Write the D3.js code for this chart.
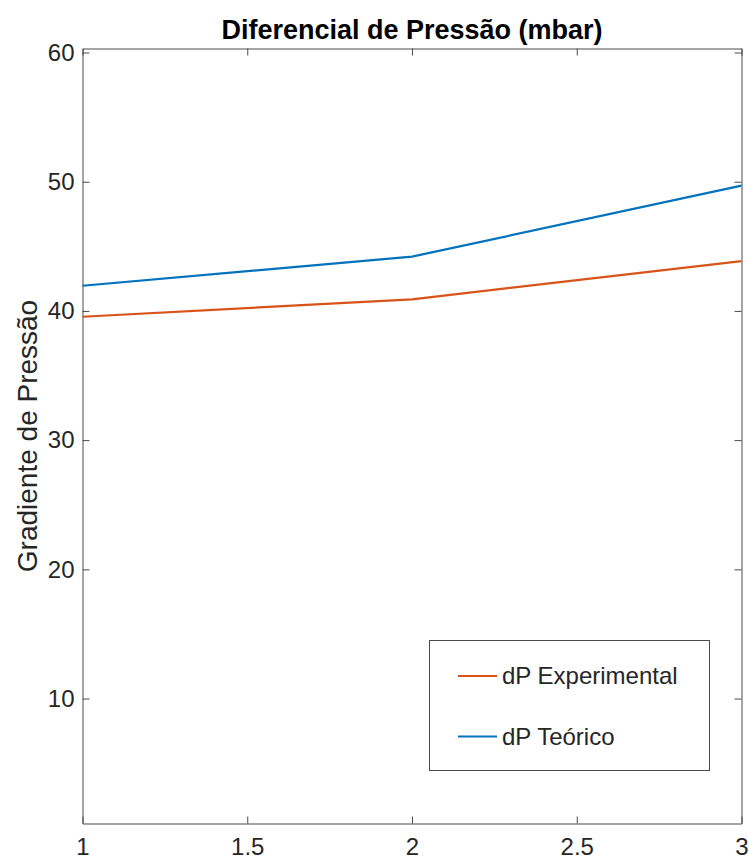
<!DOCTYPE html>
<html>
<head>
<meta charset="utf-8">
<script src="https://cdn.jsdelivr.net/npm/d3@7"></script>
<style>
  html, body { margin: 0; padding: 0; background: #fff; }
  svg { display: block; }
  text { font-family: "Liberation Sans", Arial, Helvetica, sans-serif; }
</style>
</head>
<body>
<svg id="chart" width="749" height="859"></svg>
<script>
// Pressure differential per run
const xValues = [1, 2, 3];
const dpExperimental = [39.55, 40.9, 43.85];
const dpTeorico = [41.95, 44.2, 49.7];
const seriesNames = ["dP Experimental", "dP Teórico"];
const seriesColors = ["#D95319", "#0072BD"];
const xTicks = [1, 1.5, 2, 2.5, 3];
const yTicks = [10, 20, 30, 40, 50, 60];
const xDomain = [1, 3];
const yDomain = [0.33, 60.31];

const W = 749, H = 859;
const m = { left: 82.5, right: 741.5, top: 48.5, bottom: 823.5 };

const svg = d3.select("#chart");
const x = d3.scaleLinear().domain(xDomain).range([m.left, m.right]);
const y = d3.scaleLinear().domain(yDomain).range([m.bottom, m.top]);

const axisColor = "#4a4a4a";
const textColor = "#262626";
const tickLen = 7;

// Axes: ticks drawn inward on all four sides
const gBottom = svg.append("g").attr("transform", `translate(0,${m.bottom})`)
  .call(d3.axisBottom(x).tickValues(xTicks).tickSizeInner(-tickLen).tickSizeOuter(0)
    .tickPadding(14).tickFormat(d3.format("")));
const gTop = svg.append("g").attr("transform", `translate(0,${m.top})`)
  .call(d3.axisTop(x).tickValues(xTicks).tickSizeInner(-tickLen).tickSizeOuter(0)
    .tickFormat(""));
const gLeft = svg.append("g").attr("transform", `translate(${m.left},0)`)
  .call(d3.axisLeft(y).tickValues(yTicks).tickSizeInner(-tickLen).tickSizeOuter(0)
    .tickPadding(8).tickFormat(d3.format("")));
const gRight = svg.append("g").attr("transform", `translate(${m.right},0)`)
  .call(d3.axisRight(y).tickValues(yTicks).tickSizeInner(-tickLen).tickSizeOuter(0)
    .tickFormat(""));

[gBottom, gTop, gLeft, gRight].forEach(g => {
  g.select(".domain").attr("stroke", axisColor).attr("stroke-width", 1);
  g.selectAll(".tick line").attr("stroke", axisColor).attr("stroke-width", 1);
  g.selectAll(".tick text").attr("fill", textColor).attr("font-size", 24);
});
gBottom.selectAll(".tick text").attr("dy", "0.71em");

// Series lines
const line = d3.line().x((d, i) => x(xValues[i])).y(d => y(d));
[dpExperimental, dpTeorico].forEach((vals, k) => {
  svg.append("path").datum(vals)
    .attr("fill", "none")
    .attr("stroke", seriesColors[k])
    .attr("stroke-width", 2.2)
    .attr("stroke-linejoin", "round")
    .attr("d", line);
});

// Title
svg.append("text")
  .attr("x", (m.left + m.right) / 2).attr("y", 39)
  .attr("text-anchor", "middle")
  .attr("font-size", 27).attr("font-weight", "bold").attr("fill", "#000")
  .text("Diferencial de Pressão (mbar)");

// Y axis label
svg.append("text")
  .attr("transform", `translate(37,${(m.top + m.bottom) / 2}) rotate(-90)`)
  .attr("text-anchor", "middle")
  .attr("font-size", 28).attr("fill", textColor)
  .text("Gradiente de Pressão");

// Legend
const leg = svg.append("g");
leg.append("rect")
  .attr("x", 429.5).attr("y", 640.5).attr("width", 280).attr("height", 130)
  .attr("fill", "#fff").attr("stroke", axisColor).attr("stroke-width", 1);
seriesNames.forEach((name, k) => {
  const cy = 676 + k * 60.5;
  leg.append("line")
    .attr("x1", 458).attr("x2", 497).attr("y1", cy).attr("y2", cy)
    .attr("stroke", seriesColors[k]).attr("stroke-width", 2.2);
  leg.append("text")
    .attr("x", 502).attr("y", cy).attr("dy", "0.35em")
    .attr("font-size", 24).attr("fill", textColor)
    .text(name);
});
</script>
</body>
</html>
